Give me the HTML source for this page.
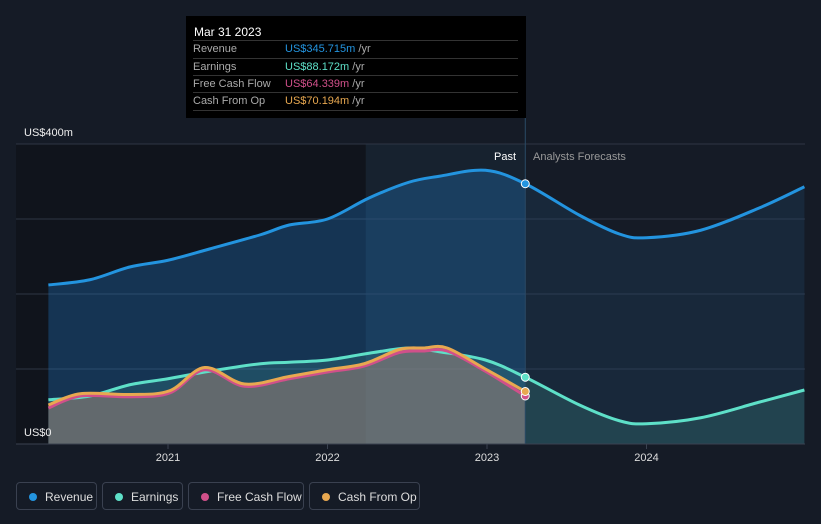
<!DOCTYPE html>
<html><head><meta charset="utf-8"><style>
body{margin:0;background:#151b26;width:821px;height:524px;overflow:hidden;font-family:"Liberation Sans",sans-serif}
#tip{position:absolute;left:186px;top:16px;width:340px;height:102px;background:#000;color:#fff;font-size:11px}
#tip .t{position:absolute;left:8px;top:9px;font-size:12px}
.r{position:absolute;left:7px;width:325px;height:17px;border-top:1px solid #333;line-height:17px;color:#aaa}
.r span{position:absolute;left:92px}
.lg{position:absolute;top:482px;height:28px;border:1px solid #3a4150;border-radius:4px;color:#ddd;font-size:12px;line-height:28px;box-sizing:border-box;padding-left:28px}
.lg i{position:absolute;left:12px;top:10px;width:8px;height:8px;border-radius:50%}
</style></head><body>
<svg id="c" width="821" height="524" style="position:absolute;left:0;top:0"></svg>
<div id="tip">
<div class="t">Mar 31 2023</div>
<div class="r" style="top:24px">Revenue<span><b style="font-weight:normal;color:#2394df">US$345.715m</b> /yr</span></div>
<div class="r" style="top:42px">Earnings<span><b style="font-weight:normal;color:#5ee0c8">US$88.172m</b> /yr</span></div>
<div class="r" style="top:59px">Free Cash Flow<span><b style="font-weight:normal;color:#d0508a">US$64.339m</b> /yr</span></div>
<div class="r" style="top:76px;border-bottom:1px solid #333">Cash From Op<span><b style="font-weight:normal;color:#e8a850">US$70.194m</b> /yr</span></div>
</div>
<div class="lg" style="left:16px;width:81px"><i style="background:#2394df"></i>Revenue</div>
<div class="lg" style="left:102px;width:81px"><i style="background:#5ee0c8"></i>Earnings</div>
<div class="lg" style="left:188px;width:116px"><i style="background:#d0508a"></i>Free Cash Flow</div>
<div class="lg" style="left:309px;width:111px"><i style="background:#e8a850"></i>Cash From Op</div>
<script>
const revX=[2020.25,2020.51,2020.76,2021,2021.26,2021.58,2021.76,2022,2022.26,2022.51,2022.7,2022.99,2023.24,2023.58,2023.83,2024,2024.34,2024.71,2024.99];
const revV=[212,219,236,245,260,279,292,300,328,349,357,365,347,305,280,275,285,315,343];
const earnX=[2020.25,2020.51,2020.76,2021,2021.26,2021.58,2021.76,2022,2022.26,2022.51,2022.7,2022.99,2023.24,2023.58,2023.83,2024,2024.34,2024.71,2024.99];
const earnV=[59,64,79,87,97,107,109,112,121,128,123,112,89,52,31,27,35,56,72];
const fcfX=[2020.25,2020.45,2020.76,2021.01,2021.23,2021.48,2021.76,2022,2022.23,2022.45,2022.6,2022.75,2022.99,2023.24];
const fcfV=[48,64,63,68,99,77,87,96,104,122,124,124,97,64];
const cfoV=[52,67,66,71,102,80,90,99,107,126,128,128,100,70];
const xTicks=[2021,2022,2023,2024];
const yTicks=[0,100,200,300,400];
const X=t=>168+(t-2021)*159.5, Y=v=>444-v*0.75;
const s=document.getElementById('c'),NS='http://www.w3.org/2000/svg';
function el(n,a,p){const e=document.createElementNS(NS,n);for(const k in a)e.setAttribute(k,a[k]);(p||s).appendChild(e);return e;}
function path(xs,vs){const p=xs.map((x,i)=>[X(x),Y(vs[i])]);let d='M'+p[0];for(let i=0;i<p.length-1;i++){const a=p[i-1]||p[i],b=p[i],c=p[i+1],e=p[i+2]||c;d+=`C${b[0]+(c[0]-a[0])/6},${b[1]+(c[1]-a[1])/6} ${c[0]-(e[0]-b[0])/6},${c[1]-(e[1]-b[1])/6} ${c[0]},${c[1]}`;}return d;}
const pastX=X(2023.24);
const defs=el('defs',{});
const cp=el('clipPath',{id:'past'},defs);el('rect',{x:0,y:0,width:pastX,height:444},cp);
const cf=el('clipPath',{id:'fut'},defs);el('rect',{x:pastX,y:0,width:400,height:444},cf);
let r0=el('rect',{x:16,y:144,width:X(2022.24)-16,height:300,fill:'#10141c'});

let r=el('rect',{x:X(2022.24),y:144,width:pastX-X(2022.24),height:300,fill:'#17222f'});

yTicks.forEach(v=>{const g=el('line',{x1:16,x2:805,y1:Y(v),y2:Y(v),stroke:'#2e3644','stroke-width':1});});
function area(xs,vs,fill,clip){const d=path(xs,vs)+`L${X(xs[xs.length-1])},444L${X(xs[0])},444Z`;const a=el('path',{d,fill,'clip-path':clip?'url(#'+clip+')':''});}
area(revX,revV,'rgba(35,120,200,0.32)','past');
area(revX,revV,'rgba(35,80,120,0.25)','fut');
area(earnX,earnV,'rgba(94,224,200,0.15)','');
area(fcfX,cfoV,'rgba(180,140,120,0.45)','');
function line(xs,vs,c,n){const l=el('path',{d:path(xs,vs),fill:'none',stroke:c,'stroke-width':3});}
line(revX,revV,'#2394df','revenue-line');
line(earnX,earnV,'#5ee0c8','earnings-line');
line(fcfX,fcfV,'#d0508a','fcf-line');
line(fcfX,cfoV,'#e8a850','cfo-line');
const vl=el('line',{x1:pastX,x2:pastX,y1:16,y2:444,stroke:'#2a4a66','stroke-width':1});
[[revV,revX,'#2394df'],[earnV,earnX,'#5ee0c8'],[fcfV,fcfX,'#d0508a'],[cfoV,fcfX,'#e8a850']].forEach(([v,x,c])=>{const i=x.indexOf(2023.24);const d=el('circle',{cx:X(x[i]),cy:Y(v[i]),r:4,fill:c,stroke:'#fff','stroke-width':1});});
el('line',{x1:16,x2:805,y1:444,y2:444,stroke:'#3a4250'});
xTicks.forEach(t=>{el('line',{x1:X(t),x2:X(t),y1:444,y2:449,stroke:'#3a4250'});const e=el('text',{x:X(t),y:461,fill:'#ddd','font-size':11,'text-anchor':'middle'});e.textContent=t;});
function txt(x,y,t,c,n,sz){const e=el('text',{x,y,fill:c,'font-size':sz||11});e.textContent=t;}
txt(24,136,'US$400m','#eee','y-label-top');
txt(24,436,'US$0','#eee','y-label-bottom');
txt(494,160,'Past','#fff','past-label');
txt(533,160,'Analysts Forecasts','#999','forecast-label');
</script>
</body></html>
